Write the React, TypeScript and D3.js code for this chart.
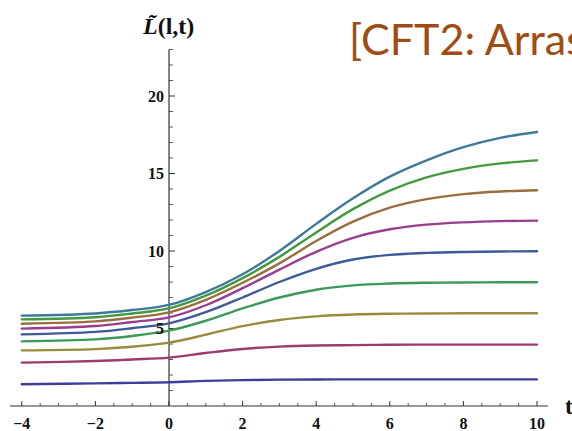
import React from "react";
import * as d3 from "d3";

// ---- data ----
const tValues = [-4, -2, -1, 0, 1, 2, 3, 4, 5, 6, 7, 8, 9, 10];

const series1 = [1.40, 1.46, 1.49, 1.53, 1.62, 1.67, 1.70, 1.71, 1.72, 1.72, 1.72, 1.72, 1.72, 1.72];
const series2 = [2.80, 2.90, 3.00, 3.12, 3.42, 3.68, 3.83, 3.90, 3.93, 3.95, 3.96, 3.96, 3.96, 3.96];
const series3 = [3.59, 3.67, 3.82, 4.09, 4.60, 5.15, 5.55, 5.78, 5.90, 5.95, 5.97, 5.98, 5.98, 5.98];
const series4 = [4.17, 4.30, 4.52, 4.86, 5.50, 6.30, 7.00, 7.50, 7.78, 7.90, 7.95, 7.97, 7.98, 7.98];
const series5 = [4.62, 4.78, 5.02, 5.33, 6.05, 7.00, 8.00, 8.85, 9.45, 9.75, 9.88, 9.94, 9.97, 9.98];
const series6 = [4.99, 5.16, 5.42, 5.72, 6.50, 7.60, 8.80, 9.95, 10.85, 11.40, 11.70, 11.85, 11.93, 11.96];
const series7 = [5.31, 5.46, 5.70, 6.04, 6.85, 7.95, 9.20, 10.65, 11.90, 12.80, 13.35, 13.67, 13.84, 13.92];
const series8 = [5.59, 5.73, 5.97, 6.30, 7.12, 8.25, 9.62, 11.20, 12.70, 13.90, 14.75, 15.30, 15.65, 15.85];
const series9 = [5.83, 5.97, 6.19, 6.52, 7.35, 8.50, 10.00, 11.75, 13.40, 14.80, 15.85, 16.70, 17.30, 17.68];

const allSeries = [series1, series2, series3, series4, series5, series6, series7, series8, series9];
const colors = ["#3F3D99", "#993D71", "#998B3D", "#3D9956", "#3D5A99", "#993D8F", "#996D3D", "#43993D", "#3D7999"];

const xMajorTicks = [-4, -2, 0, 2, 4, 6, 8, 10];
const xMajorLabels = ["\u22124", "\u22122", "0", "2", "4", "6", "8", "10"];
const yMajorTicks = [5, 10, 15, 20];
const yMajorLabels = ["5", "10", "15", "20"];

const titleText = "[CFT2: Arras";
const yAxisTitle = "L\u0303";

export default function App() {
  const W = 572;
  const H = 431;
  const x = d3.scaleLinear().domain([0, 10]).range([169, 537]);
  const y = d3.scaleLinear().domain([0, 20]).range([406, 96]);

  const line = d3
    .line<number>()
    .x((_, i) => x(tValues[i]))
    .y((d) => y(d))
    .curve(d3.curveCatmullRom.alpha(0.5));

  const xMinor = d3.range(-8, 21).map((k) => k * 0.5).filter((v) => !xMajorTicks.includes(v));
  const yMinor = d3.range(1, 24).filter((v) => !yMajorTicks.includes(v));

  const axisColor = "#333";
  const serif = "'Liberation Serif', 'Times New Roman', serif";

  return (
    <svg
      width={W}
      height={H}
      style={{ position: "fixed", left: 0, top: 0, background: "#fff" }}
    >
      <rect x={0} y={0} width={W} height={H} fill="#fff" />
      {/* axes */}
      <line x1={10} x2={548} y1={y(0)} y2={y(0)} stroke={axisColor} strokeWidth={1.2} />
      <line x1={x(0)} x2={x(0)} y1={y(0)} y2={y(23)} stroke={axisColor} strokeWidth={1.2} />
      {xMajorTicks.map((t) => (
        <line key={"xM" + t} x1={x(t)} x2={x(t)} y1={y(0)} y2={y(0) - 5} stroke={axisColor} strokeWidth={1} />
      ))}
      {xMinor.map((t) => (
        <line key={"xm" + t} x1={x(t)} x2={x(t)} y1={y(0)} y2={y(0) - 3} stroke={axisColor} strokeWidth={0.8} />
      ))}
      {yMajorTicks.map((v) => (
        <line key={"yM" + v} x1={x(0)} x2={x(0) + 6} y1={y(v)} y2={y(v)} stroke={axisColor} strokeWidth={1} />
      ))}
      {yMinor.map((v) => (
        <line key={"ym" + v} x1={x(0)} x2={x(0) + 4} y1={y(v)} y2={y(v)} stroke={axisColor} strokeWidth={0.8} />
      ))}

      {/* curves */}
      {allSeries.map((s, i) => (
        <path key={"s" + i} d={line(s) || ""} fill="none" stroke={colors[i]} strokeWidth={2.4} strokeLinecap="round" />
      ))}

      {/* tick labels */}
      {xMajorTicks.map((t, i) => (
        <text
          key={"xl" + t}
          x={x(t)}
          y={429}
          textAnchor="middle"
          fontFamily={serif}
          fontWeight="bold"
          fontSize={16}
          fill="#111"
        >
          {xMajorLabels[i]}
        </text>
      ))}
      {yMajorTicks.map((v, i) => (
        <text
          key={"yl" + v}
          x={x(0) - 5}
          y={y(v) + 5.5}
          textAnchor="end"
          fontFamily={serif}
          fontWeight="bold"
          fontSize={16}
          fill="#111"
        >
          {yMajorLabels[i]}
        </text>
      ))}

      {/* axis labels */}
      <text x={565} y={414} fontFamily={serif} fontWeight="bold" fontSize={23} fill="#111">
        t
      </text>
      <text x={143} y={34} fontFamily={serif} fontWeight="bold" fontSize={24} fill="#111">
        <tspan fontStyle="italic">{yAxisTitle}</tspan>
        <tspan>(l,t)</tspan>
      </text>

      {/* title */}
      <text x={349} y={55} fontFamily="Lato, 'Open Sans', sans-serif" fontSize={43} fill="#A04C12">
        {titleText}
      </text>
    </svg>
  );
}
